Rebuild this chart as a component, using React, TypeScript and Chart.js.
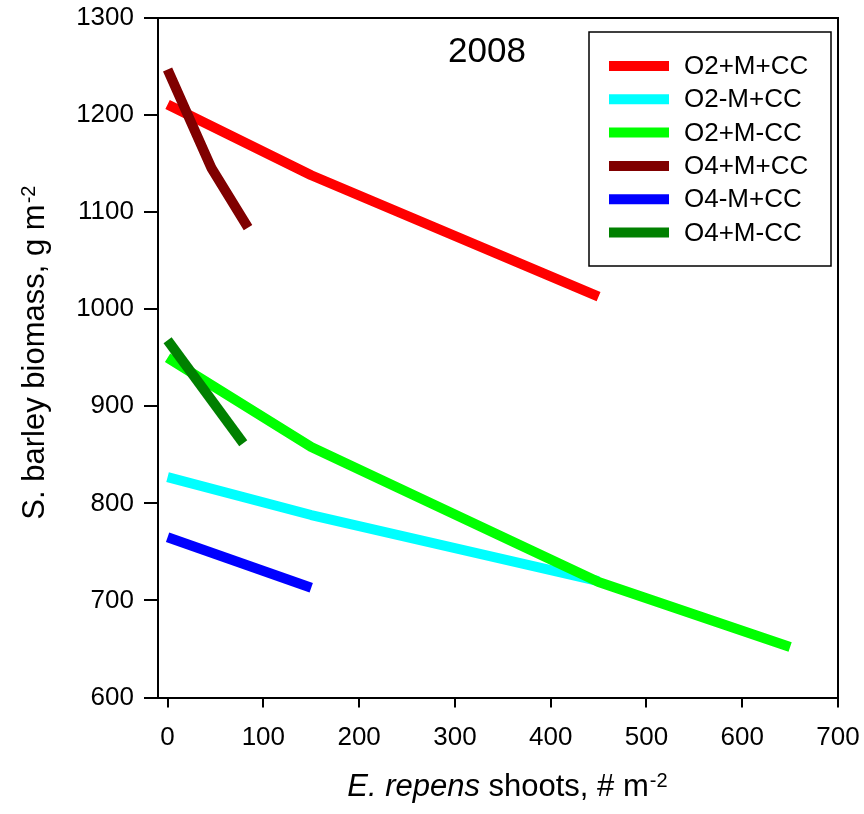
import React, { useEffect, useRef } from 'react';
import { Chart, registerables } from 'chart.js';

Chart.register(...registerables);

// ---- data ----
const seriesLabels = ['O2+M+CC', 'O2-M+CC', 'O2+M-CC', 'O4+M+CC', 'O4-M+CC', 'O4+M-CC'];
const seriesColors = ['#ff0000', '#00ffff', '#00ff00', '#800000', '#0000ff', '#008000'];

const o2MpCCx = [0, 150, 450];
const o2MpCCy = [1211, 1138, 1013];

const o2MmCCx = [0, 150, 450];
const o2MmCCy = [827, 788, 720];

const o2MpNoCCx = [0, 150, 450, 650];
const o2MpNoCCy = [950, 858, 719, 652];

const o4MpCCx = [0, 46, 84];
const o4MpCCy = [1247, 1145, 1084];

const o4MmCCx = [0, 150];
const o4MmCCy = [765, 713];

const o4MpNoCCx = [0, 79];
const o4MpNoCCy = [968, 862];

const seriesX = [o2MpCCx, o2MmCCx, o2MpNoCCx, o4MpCCx, o4MmCCx, o4MpNoCCx];
const seriesY = [o2MpCCy, o2MmCCy, o2MpNoCCy, o4MpCCy, o4MmCCy, o4MpNoCCy];

const xTicks = [0, 100, 200, 300, 400, 500, 600, 700];
const yTicks = [600, 700, 800, 900, 1000, 1100, 1200, 1300];

const chartTitle = '2008';
const yTitleMain = 'S. barley biomass, g m';
const yTitleSup = '-2';
const xTitleItalic = 'E. repens';
const xTitleMain = ' shoots, # m';
const xTitleSup = '-2';

const FONT = "'Liberation Sans', Arial, Helvetica, sans-serif";

const decorPlugin = {
  id: 'decor',
  afterDraw(chart: any) {
    const ctx = chart.ctx as CanvasRenderingContext2D;
    const a = chart.chartArea;
    ctx.save();
    // top & right frame
    ctx.strokeStyle = '#000';
    ctx.lineWidth = 2;
    ctx.beginPath();
    ctx.moveTo(a.left, a.top);
    ctx.lineTo(a.right, a.top);
    ctx.lineTo(a.right, a.bottom);
    ctx.stroke();

    // title
    ctx.fillStyle = '#000';
    ctx.font = `35px ${FONT}`;
    ctx.textAlign = 'center';
    ctx.textBaseline = 'alphabetic';
    ctx.fillText(chartTitle, 487, 62);

    // legend
    const lx = 589, ly = 32, lw = 242, lh = 234;
    ctx.fillStyle = '#fff';
    ctx.fillRect(lx, ly, lw, lh);
    ctx.lineWidth = 1.5;
    ctx.strokeStyle = '#000';
    ctx.strokeRect(lx, ly, lw, lh);
    ctx.font = `26px ${FONT}`;
    ctx.textAlign = 'left';
    ctx.textBaseline = 'middle';
    chart.data.datasets.forEach((ds: any, i: number) => {
      const cy = 66 + i * 33.3;
      ctx.strokeStyle = ds.borderColor;
      ctx.lineWidth = 10;
      ctx.lineCap = 'butt';
      ctx.beginPath();
      ctx.moveTo(609, cy);
      ctx.lineTo(669, cy);
      ctx.stroke();
      ctx.fillStyle = '#000';
      ctx.fillText(ds.label, 684, cy + 1);
    });

    // x axis title
    ctx.textBaseline = 'alphabetic';
    ctx.textAlign = 'left';
    const fs = 31;
    const sfs = 20;
    ctx.font = `italic ${fs}px ${FONT}`;
    const wI = ctx.measureText(xTitleItalic).width;
    ctx.font = `${fs}px ${FONT}`;
    const wM = ctx.measureText(xTitleMain).width;
    const cx = (a.left + a.right) / 2;
    const x0 = cx - (wI + wM) / 2;
    const by = 796;
    ctx.font = `italic ${fs}px ${FONT}`;
    ctx.fillText(xTitleItalic, x0, by);
    ctx.font = `${fs}px ${FONT}`;
    ctx.fillText(xTitleMain, x0 + wI, by);
    ctx.font = `${sfs}px ${FONT}`;
    ctx.fillText(xTitleSup, x0 + wI + wM + 1, by - 9);

    // y axis title
    ctx.save();
    const cyy = 362;
    ctx.translate(44, cyy);
    ctx.rotate(-Math.PI / 2);
    ctx.font = `${fs}px ${FONT}`;
    const wY = ctx.measureText(yTitleMain).width;
    ctx.fillText(yTitleMain, -wY / 2, 0);
    ctx.font = `${sfs}px ${FONT}`;
    ctx.fillText(yTitleSup, wY / 2 + 1, -9);
    ctx.restore();

    ctx.restore();
  },
};

export default function App() {
  const ref = useRef<HTMLCanvasElement | null>(null);
  useEffect(() => {
    document.body.style.margin = '0';
    document.body.style.overflow = 'hidden';
    const canvas = ref.current;
    if (!canvas) return;
    const datasets = seriesLabels.map((label, i) => ({
      label,
      data: seriesX[i].map((x, j) => ({ x, y: seriesY[i][j] })),
      borderColor: seriesColors[i],
      backgroundColor: seriesColors[i],
      borderWidth: 10,
      pointRadius: 0,
      fill: false,
      tension: 0,
      borderCapStyle: 'butt' as const,
      borderJoinStyle: 'round' as const,
      order: seriesLabels.length - i,
    }));
    const tickFont = { family: FONT, size: 26 };
    const chart = new Chart(canvas, {
      type: 'line',
      data: { datasets },
      options: {
        animation: false,
        responsive: false,
        maintainAspectRatio: false,
        devicePixelRatio: 1,
        layout: { padding: { top: 18, right: 26, left: 0, bottom: 0 } },
        plugins: { legend: { display: false }, tooltip: { enabled: false }, title: { display: false } },
        scales: {
          x: {
            type: 'linear',
            min: -10,
            max: 700,
            afterBuildTicks: (s: any) => {
              s.ticks = xTicks.map((v) => ({ value: v }));
            },
            afterFit: (s: any) => {
              s.height = 116.5;
              s.paddingLeft = 0;
              s.paddingRight = 0;
            },
            grid: { drawOnChartArea: false, drawTicks: true, tickLength: 10, color: '#000', lineWidth: 2 },
            border: { display: true, color: '#000', width: 2 },
            ticks: {
              color: '#000',
              font: tickFont,
              padding: 15,
              maxRotation: 0,
              autoSkip: false,
              callback: (v: any) => String(v),
            },
          },
          y: {
            type: 'linear',
            min: 600,
            max: 1300,
            afterBuildTicks: (s: any) => {
              s.ticks = yTicks.map((v) => ({ value: v }));
            },
            afterFit: (s: any) => {
              s.width = 158;
              s.paddingTop = 0;
              s.paddingBottom = 0;
            },
            grid: { drawOnChartArea: false, drawTicks: true, tickLength: 14, color: '#000', lineWidth: 2 },
            border: { display: true, color: '#000', width: 2 },
            ticks: {
              color: '#000',
              font: tickFont,
              padding: 10,
              autoSkip: false,
              callback: (v: any) => String(v),
            },
          },
        },
      },
      plugins: [decorPlugin],
    } as any);
    return () => chart.destroy();
  }, []);
  return (
    <div style={{ width: 864, height: 814, background: '#fff' }}>
      <canvas ref={ref} width={864} height={814} style={{ display: 'block', width: 864, height: 814 }} />
    </div>
  );
}
